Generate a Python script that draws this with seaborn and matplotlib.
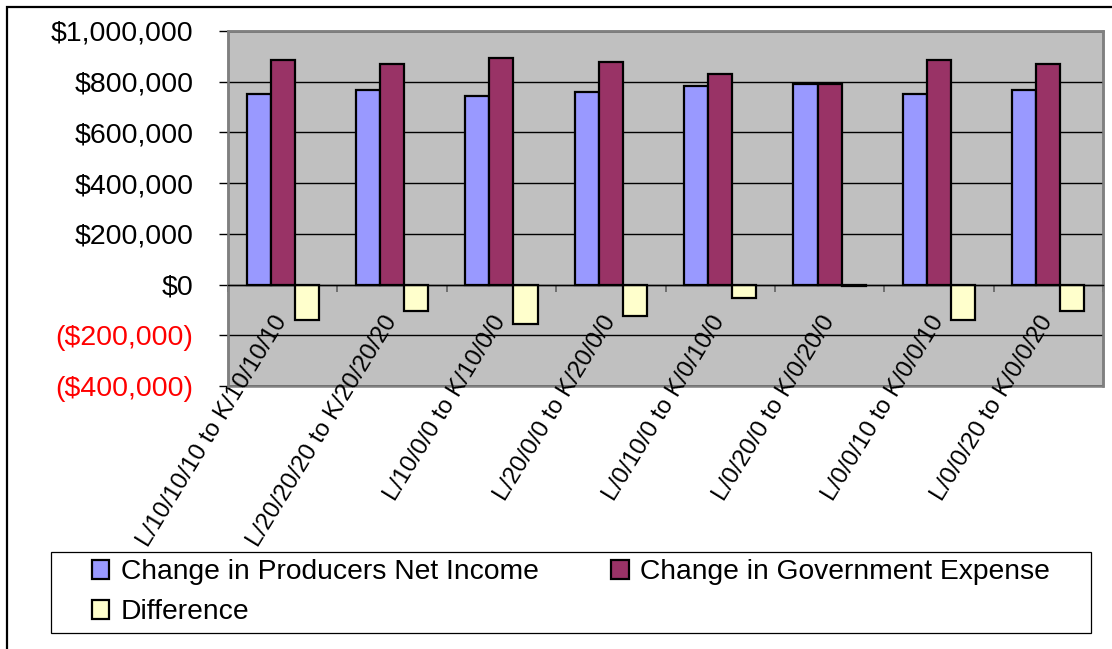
import matplotlib
matplotlib.use("Agg")
import matplotlib.pyplot as plt
import matplotlib.ticker as mticker
from matplotlib.patches import Rectangle
import seaborn as sns
import pandas as pd

categories = ["L/10/10/10 to K/10/10/10", "L/20/20/20 to K/20/20/20",
              "L/10/0/0 to K/10/0/0", "L/20/0/0 to K/20/0/0",
              "L/0/10/0 to K/0/10/0", "L/0/20/0 to K/0/20/0",
              "L/0/0/10 to K/0/0/10", "L/0/0/20 to K/0/0/20"]
series_names = ["Change in Producers Net Income", "Change in Government Expense", "Difference"]
producers = [752000, 768000, 745000, 760000, 784000, 792000, 752000, 768000]
government = [887000, 871000, 895000, 879000, 832000, 792000, 887000, 871000]
difference = [-140000, -103000, -155000, -122000, -52000, -5000, -140000, -103000]
colors = ["#9999FF", "#993366", "#FFFFCC"]
y_ticks = [-400000, -200000, 0, 200000, 400000, 600000, 800000, 1000000]

rows = []
for name, vals in zip(series_names, [producers, government, difference]):
    for c, v in zip(categories, vals):
        rows.append({"scenario": c, "value": v, "series": name})
df = pd.DataFrame(rows)

sns.set_theme(style="white")
plt.rcParams['font.family'] = ['Liberation Sans', 'DejaVu Sans']
plt.rcParams['text.color'] = 'black'
plt.rcParams['xtick.color'] = 'black'
plt.rcParams['ytick.color'] = 'black'
plt.rcParams['axes.labelcolor'] = 'black'

W, H = 1112, 649
fig = plt.figure(figsize=(W / 100, H / 100), dpi=100)
fig.patch.set_facecolor("white")
ax = fig.add_axes([228 / W, 1 - 386 / H, (1103 - 228) / W, (386 - 31) / H])
ax.set_facecolor("#C0C0C0")

sns.barplot(data=df, x="scenario", y="value", hue="series", order=categories,
            hue_order=series_names, palette=colors, saturation=1, width=0.66,
            edgecolor="black", linewidth=1.6, ax=ax, legend=True)

handles, labels = ax.get_legend_handles_labels()
ax.get_legend().remove()

ax.set_ylim(-400000, 1000000)
ax.set_xlim(-0.5, len(categories) - 0.5)
ax.set_yticks(y_ticks)
ax.yaxis.grid(True, color="black", linewidth=1.0)
ax.set_axisbelow(True)
ax.set_xlabel("")
ax.set_ylabel("")

def fmt(v, pos):
    if v < 0:
        return "(${:,.0f})".format(-v)
    return "${:,.0f}".format(v)
ax.yaxis.set_major_formatter(mticker.FuncFormatter(fmt))

for side in ["top", "right", "left"]:
    ax.spines[side].set_color("#808080")
    ax.spines[side].set_linewidth(1.8)
ax.spines["bottom"].set_position(("data", 0))
ax.spines["bottom"].set_color("black")
ax.spines["bottom"].set_linewidth(1.0)
ax.patch.set_edgecolor("#808080")
ax.patch.set_linewidth(1.8)

ax.tick_params(axis="y", which="major", direction="out", length=6.5, width=1.0,
               color="black", labelcolor="black", pad=18.5, labelsize=20.5, left=True)
ax.tick_params(axis="x", which="major", length=0, pad=23.5, labelsize=17.5,
               labelcolor="black", labelrotation=58.5, bottom=True)
ax.set_xticks(range(len(categories)))
ax.set_xticklabels(categories)
ax.set_xticks([i - 0.5 for i in range(len(categories) + 1)], minor=True)
ax.tick_params(axis="x", which="minor", direction="out", length=5, width=1.2,
               color="#606060", bottom=True)
for lbl in ax.get_xticklabels():
    lbl.set_ha("right")
    lbl.set_va("center")
    lbl.set_rotation_mode("anchor")
    lbl.set_color("black")
for lbl, v in zip(ax.get_yticklabels(), y_ticks):
    lbl.set_color("red" if v < 0 else "black")

# legend box
fig.patches.append(Rectangle((51 / W, 1 - 633 / H), (1091 - 51) / W, (633 - 552) / H,
                             transform=fig.transFigure, facecolor="white",
                             edgecolor="black", linewidth=0.9, zorder=0))
order = [0, 2, 1]  # row-major: P, G on row 1; D on row 2 (legend fills columns first)
leg = fig.legend([handles[i] for i in order], [labels[i] for i in order], loc="upper left",
                 bbox_to_anchor=(92 / W, 1 - 560 / H, (1050 - 92) / W, 0.001),
                 mode="expand", ncol=2, frameon=False, fontsize=20.3,
                 borderpad=0, borderaxespad=0, handlelength=0.62, handleheight=0.62,
                 handletextpad=0.4, labelspacing=0.5)
for h in leg.legend_handles:
    h.set_edgecolor("black")
    h.set_linewidth(1.6)
for t in leg.get_texts():
    t.set_color("black")

# outer border
fig.patches.append(Rectangle((7 / W, -0.1), 1.2, 1.1 - 7 / H,
                             transform=fig.transFigure, facecolor="none",
                             edgecolor="black", linewidth=1.6, zorder=0))

fig.savefig("out.png", dpi=100)
